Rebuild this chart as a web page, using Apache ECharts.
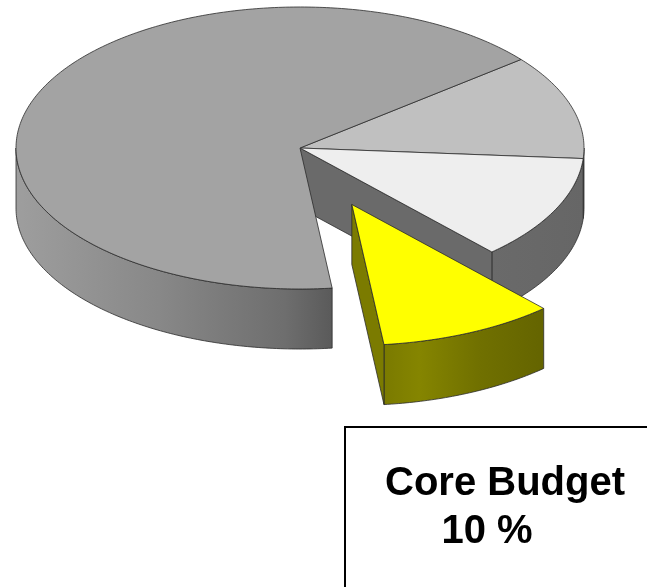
<!DOCTYPE html>
<html>
<head>
<meta charset="utf-8">
<script src="https://cdn.jsdelivr.net/npm/echarts/dist/echarts.min.js"></script>
<style>
  html, body { margin: 0; padding: 0; background: #ffffff; }
  #chart { width: 647px; height: 587px; }
</style>
</head>
<body>
<div id="chart"></div>
<script>
// Slice data, listed clockwise from the start angle.
const sliceNames = ['Share A', 'Share B', 'Core Budget', 'Share C'];
const sliceValues = [12, 12, 10, 66];
const explodedSlices = [false, false, true, false];

// Styling for each slice.
const topColors = ['#c0c0c0', '#eeeeee', '#ffff00', '#a3a3a3'];
const faceColors = ['#6a6a6a', '#6a6a6a', '#7b7b00', '#6a6a6a'];
const wallStops = [
  [[0, '#6a6a6a'], [1, '#666666']],
  [[0, '#6a6a6a'], [1, '#666666']],
  [[0, '#7a7a00'], [0.22, '#858500'], [0.6, '#707000'], [1, '#646400']],
  [[0, '#9e9e9e'], [0.45, '#888888'], [0.85, '#6e6e6e'], [1, '#5a5a5a']]
];

// Layout of the tilted disc.
const layout = {
  center: [300, 148],
  radius: 284,
  tilt: 0.4965,        // vertical squash of the disc
  depth: 60,           // thickness of the disc
  explode: 125,        // pull-out distance of exploded slices
  startAngle: -38.9    // degrees, clockwise on screen
};

const total = sliceValues.reduce((s, v) => s + v, 0);
const DEG = Math.PI / 180;

function sliceAngles(i) {
  let cum = 0;
  for (let k = 0; k < i; k++) cum += sliceValues[k];
  const a0 = layout.startAngle + 360 * cum / total;
  const a1 = a0 + 360 * sliceValues[i] / total;
  return [a0, a1];
}

function gradient(stops) {
  return new echarts.graphic.LinearGradient(0, 0, 1, 0,
    stops.map(s => ({ offset: s[0], color: s[1] })));
}

function renderSlice(params, api) {
  const i = params.dataIndex;
  const value = api.value(0);
  let cum = 0;
  for (let k = 0; k < i; k++) cum += sliceValues[k];
  const a0 = layout.startAngle + 360 * cum / total;
  const a1 = a0 + 360 * value / total;

  const R = layout.radius;
  const Ry = R * layout.tilt;
  const h = layout.depth;
  let ox = 0, oy = 0;
  if (explodedSlices[i]) {
    const mid = (a0 + a1) / 2 * DEG;
    ox = layout.explode * Math.cos(mid);
    oy = layout.explode * Math.sin(mid) * layout.tilt;
  }
  const cx = layout.center[0] + ox;
  const cy = layout.center[1] + oy;
  const pt = (deg, dz) => [cx + R * Math.cos(deg * DEG), cy + Ry * Math.sin(deg * DEG) + dz];
  const arc = (from, to, dz) => {
    const pts = [];
    const n = Math.max(2, Math.ceil(Math.abs(to - from) / 0.75));
    for (let s = 0; s <= n; s++) pts.push(pt(from + (to - from) * s / n, dz));
    return pts;
  };

  const base = explodedSlices[i] ? 10 : 0;
  const lineStyle = { stroke: '#2b2b2b', lineWidth: 0.8, lineJoin: 'round' };
  const children = [];

  // Outer wall: only the front half of the rim faces the viewer.
  for (const k of [-1, 0, 1]) {
    const lo = Math.max(a0, 360 * k);
    const hi = Math.min(a1, 360 * k + 180);
    if (hi - lo > 0.01) {
      const top = arc(lo, hi, 0);
      const bottom = arc(hi, lo, h);
      children.push({
        type: 'polygon',
        z2: base + 1,
        shape: { points: top.concat(bottom) },
        style: Object.assign({ fill: gradient(wallStops[i]) }, lineStyle)
      });
    }
  }

  // Cut faces along the radii, drawn where a gap opens next to this slice.
  const n = sliceValues.length;
  const prev = (i - 1 + n) % n, next = (i + 1) % n;
  const faces = [
    { ang: a0, show: explodedSlices[i] || explodedSlices[prev], visible: Math.cos(a0 * DEG) < 0 },
    { ang: a1, show: explodedSlices[i] || explodedSlices[next], visible: Math.cos(a1 * DEG) > 0 }
  ];
  faces.forEach(f => {
    if (!f.show || !f.visible) return;
    const o = pt(f.ang, 0), ob = pt(f.ang, h);
    children.push({
      type: 'polygon',
      z2: base + 1,
      shape: { points: [[cx, cy], o, ob, [cx, cy + h]] },
      style: Object.assign({ fill: faceColors[i] }, lineStyle)
    });
  });

  // Top surface.
  children.push({
    type: 'polygon',
    z2: base + 2,
    shape: { points: [[cx, cy]].concat(arc(a0, a1, 0)) },
    style: Object.assign({ fill: topColors[i] }, lineStyle)
  });

  return { type: 'group', children: children };
}

const coreIndex = sliceNames.indexOf('Core Budget');
const coreShare = Math.round(100 * sliceValues[coreIndex] / total);

const chart = echarts.init(document.getElementById('chart'), null, { renderer: 'canvas' });
chart.setOption({
  animation: false,
  backgroundColor: '#ffffff',
  series: [{
    type: 'custom',
    coordinateSystem: 'none',
    renderItem: renderSlice,
    data: sliceValues.map((v, i) => ({ name: sliceNames[i], value: [v] }))
  }],
  graphic: [
    {
      type: 'rect',
      z: 100,
      shape: { x: 345, y: 427, width: 340, height: 200 },
      style: { fill: '#ffffff', stroke: '#000000', lineWidth: 2 }
    },
    {
      type: 'text',
      z: 101,
      x: 505, y: 484,
      style: {
        text: sliceNames[coreIndex],
        font: 'bold 40px "Liberation Sans", Arial, sans-serif',
        fill: '#000000', align: 'center', verticalAlign: 'middle'
      }
    },
    {
      type: 'text',
      z: 101,
      x: 487, y: 532,
      style: {
        text: coreShare + ' %',
        font: 'bold 40px "Liberation Sans", Arial, sans-serif',
        fill: '#000000', align: 'center', verticalAlign: 'middle'
      }
    }
  ]
});
</script>
</body>
</html>
